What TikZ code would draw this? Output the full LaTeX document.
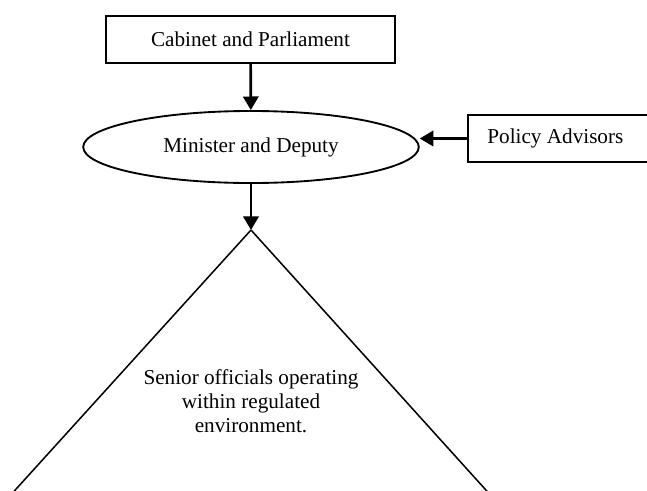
\documentclass[tikz,border=0pt]{standalone}
\usepackage{fontspec}
\setmainfont{Liberation Serif}
\usetikzlibrary{shapes.geometric}
\usetikzlibrary{arrows.meta}
\tikzset{x=0.59pt, y=-0.59pt,
 txt/.style={font=\fontsize{12.5}{14.2}\selectfont},
 box/.style={draw, line width=1.1pt, rectangle, txt},
 oval/.style={draw, line width=1.1pt, ellipse, txt},
 flow/.style={line width=1.6pt, -{Triangle[length=8pt,width=9pt]}},
 side/.style={line width=0.9pt},
 }

\begin{document}
\begin{tikzpicture}
        \useasboundingbox (0,0) rectangle (647,490);
        \clip (0,0) rectangle (647,490);
        % top of the chain
        \node[box, minimum width=170.5pt, minimum height=27.7pt] (cabinet) at (250.5,39.5) {Cabinet and Parliament};
        \node[oval, minimum width=198pt, minimum height=42.5pt, inner sep=0pt] (minister) at (251,147) {Minister and Deputy};
        \node[box, anchor=west, minimum height=27.7pt, inner xsep=11.5pt] (policy) at (467,138.5) {Policy Advisors\rule{60pt}{0pt}};

        % the pyramid below
        \coordinate (apex) at (251,230);
        \draw[side] (apex) -- (-12,520);
        \draw[side] (apex) -- (513,520);
        \node[txt, align=center] (senior) at (251,401) {Senior officials operating\\within regulated\\environment.};

        \draw[flow] (cabinet) -- (minister);
        \draw[flow] (policy.west) -- (policy.west -| minister.east);
        \draw[flow] (minister) -- (apex);
    \end{tikzpicture}
\end{document}
